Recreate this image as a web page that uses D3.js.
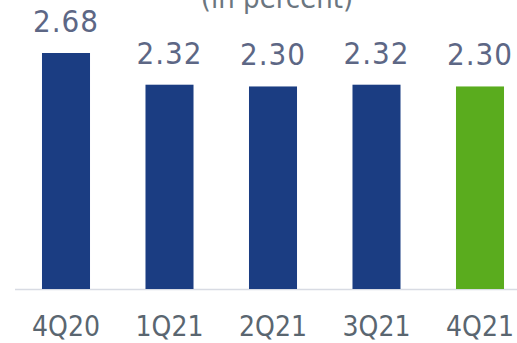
<!DOCTYPE html>
<html><head><meta charset="utf-8">
<script src="https://cdn.jsdelivr.net/npm/d3@7"></script>
<style>body{margin:0;background:#fff}svg{display:block}</style>
</head><body>
<script>
const categories = ["4Q20","1Q21","2Q21","3Q21","4Q21"];
const values = [2.68, 2.32, 2.30, 2.32, 2.30];
const labels = ["2.68","2.32","2.30","2.32","2.30"];
const highlight = ["4Q21"];

const W = 517, H = 343;
const svg = d3.select("body").append("svg").attr("width", W).attr("height", H);
const font = "'DejaVu Sans Condensed', 'DejaVu Sans', sans-serif";

const x = d3.scaleBand().domain(categories).range([14.25, 531.75]).paddingInner(0.536).paddingOuter(0.268);
const y = d3.scaleLinear().domain([0, 2.68]).range([289, 53]);

svg.append("text").attr("x", 277).attr("y", 8).attr("text-anchor", "middle")
  .attr("font-family", font).attr("font-size", 29).attr("fill", "#6b7680").text("(in percent)");

svg.append("line").attr("x1", 15).attr("x2", W).attr("y1", 289.5).attr("y2", 289.5)
  .attr("stroke", "#d8dbe3").attr("stroke-width", 1.5);

svg.selectAll("rect.bar").data(categories).enter().append("rect")
  .attr("x", d => x(d)).attr("width", x.bandwidth())
  .attr("y", (d,i) => y(values[i])).attr("height", (d,i) => y(0) - y(values[i]))
  .attr("fill", d => highlight.includes(d) ? "#5aac1e" : "#1b3d82");

svg.selectAll("text.val").data(categories).enter().append("text")
  .attr("x", d => x(d) + x.bandwidth()/2).attr("y", (d,i) => y(values[i]) - 21)
  .attr("text-anchor", "middle").attr("font-family", font).attr("font-size", 31)
  .attr("letter-spacing", 1)
  .attr("fill", "#5d6785").text((d,i) => labels[i]);

const xAxis = d3.axisBottom(x).tickSize(0).tickPadding(0);
const g = svg.append("g").attr("transform", "translate(0,289)").call(xAxis);
g.select(".domain").remove();
g.selectAll("text").attr("dy", null).attr("y", 47).attr("font-family", font)
  .attr("font-size", 28).attr("fill", "#5a6670");
</script>
</body></html>
